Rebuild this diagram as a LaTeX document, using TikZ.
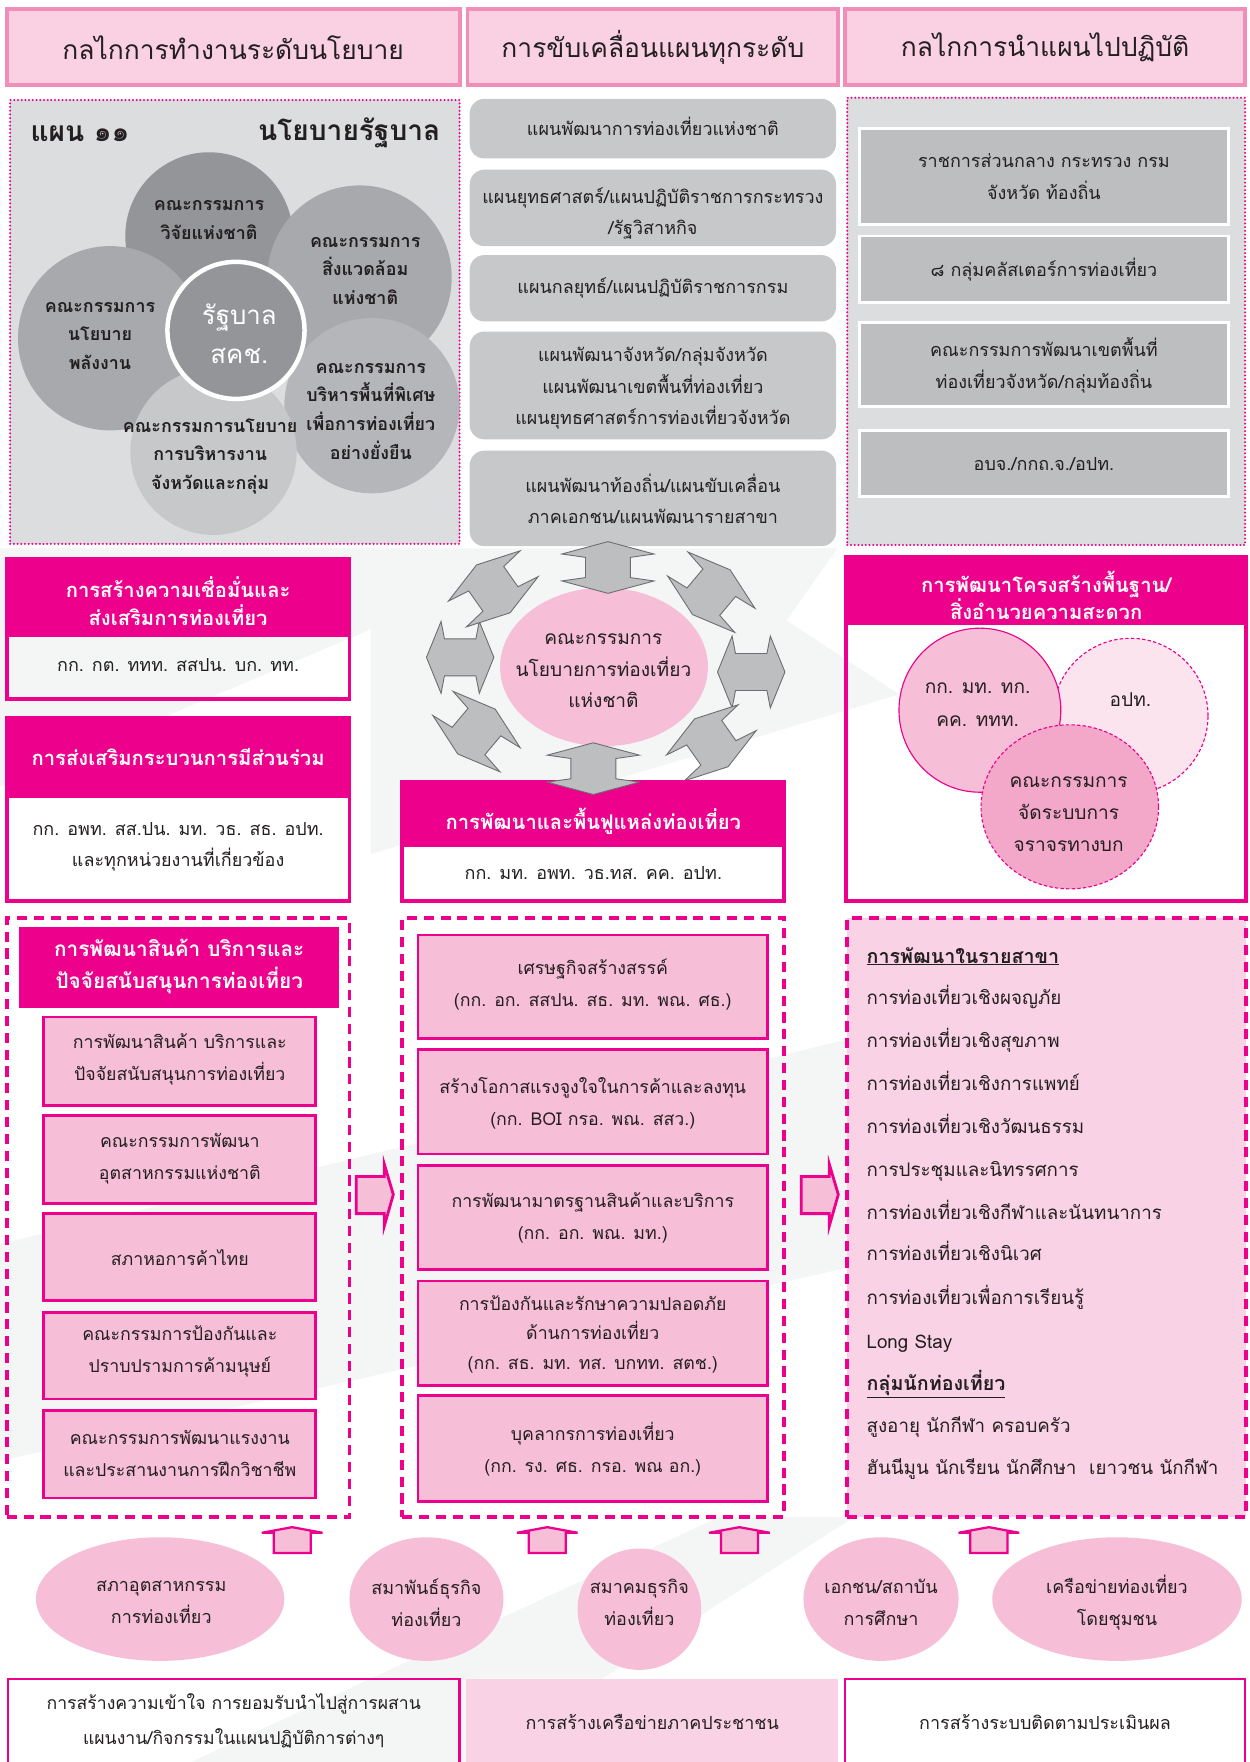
\documentclass[tikz,border=0pt]{standalone}
\usepackage{fontspec}
\setmainfont{Loma}[Script=Thai]
\usetikzlibrary{shapes.geometric}
\definecolor{mag}{HTML}{EC008C}
\definecolor{hdrfill}{HTML}{F9D1E3}
\definecolor{hdrline}{HTML}{F18DBA}
\definecolor{graybg}{HTML}{DCDDDE}
\definecolor{gbox}{HTML}{C7C8CA}
\definecolor{rbox}{HTML}{BCBEC0}
\definecolor{pk}{HTML}{F6BED7}
\definecolor{lpk}{HTML}{F9D3E5}
\definecolor{vlpk}{HTML}{FCE4EE}
\definecolor{dpk}{HTML}{F3A8CA}
\definecolor{txt}{HTML}{231F20}
\definecolor{cA}{HTML}{939598}
\definecolor{cB}{HTML}{A7A9AC}
\definecolor{cC}{HTML}{B4B6B9}
\definecolor{cD}{HTML}{C6C8CA}
\definecolor{arr}{HTML}{BCBEC0}
\definecolor{arrline}{HTML}{6D6E71}
\definecolor{streak}{HTML}{F4F5F5}
\newcommand\fsz[2]{\fontsize{#1}{#2}\selectfont}
\begin{document}
\begin{tikzpicture}[x=1pt,y=-1pt,
  t/.style={inner sep=0pt, text=txt, align=center},
  hdr/.style={draw=hdrline, line width=3.5pt, fill=hdrfill, inner sep=0pt, text=txt, font=\fsz{23.5}{28}},
  sect/.style={fill=graybg, draw=mag, line width=2pt, dash pattern=on 0pt off 3.3pt, line cap=round, inner sep=0pt},
  gr/.style={fill=gbox, rounded corners=13pt, inner sep=0pt},
  rg/.style={fill=rbox, draw=white, line width=2.5pt, inner sep=0pt},
  circ/.style={circle, inner sep=0pt},
  ct/.style={t, font=\bfseries\fsz{15.9}{25.5}},
  mt/.style={t, font=\fsz{16}{28}},
  mframe/.style={draw=mag, line width=3.5pt, inner sep=0pt},
  mhead/.style={fill=mag, inner sep=0pt},
  wt/.style={inner sep=0pt, text=white, align=center, font=\bfseries\fsz{18}{25.5}},
  dbox/.style={draw=mag, line width=3.5pt, dash pattern=on 9pt off 6pt, inner sep=0pt},
  pbox/.style={fill=pk, draw=mag, line width=2.5pt, inner sep=0pt},
  pt/.style={t, font=\fsz{15.8}{28.5}},
  lt/.style={inner sep=0pt, text=txt, anchor=base west, font=\fsz{16.7}{18}},
  lh/.style={lt, font=\bfseries\fsz{17.5}{18}},
  bell/.style={ellipse, fill=pk, inner sep=0pt},
  bt/.style={t, font=\fsz{16}{28}},
  darrv/.pic={\draw[fill=arr, draw=arrline, line width=0.8pt] (-23,0) -- (-12,-41) -- (-9,-20) -- (9,-20) -- (12,-41) -- (23,0) -- (12,41) -- (9,20) -- (-9,20) -- (-12,41) -- cycle;},
  darrh/.pic={\draw[fill=arr, draw=arrline, line width=0.8pt] (-30,0) -- (-17,-32) -- (-14,-16.5) -- (14,-16.5) -- (17,-32) -- (30,0) -- (17,32) -- (14,16.5) -- (-14,16.5) -- (-17,32) -- cycle;},
  darrd/.pic={\draw[fill=arr, draw=arrline, line width=0.8pt] (-26,0) -- (-14,-39) -- (-11,-19) -- (11,-19) -- (14,-39) -- (26,0) -- (14,39) -- (11,19) -- (-11,19) -- (-14,39) -- cycle;},
  uparr/.pic={\draw[fill=pk, draw=mag, line width=2pt] (-27,5) -- (0,0) -- (27,5) -- (16.5,5) -- (16.5,23) -- (-16.5,23) -- (-16.5,5) -- cycle;},
  rarr/.pic={\draw[fill=pk, draw=mag, line width=2.5pt] (0,-16) -- (25,-16) -- (25,-27) -- (33,0) -- (25,28) -- (25,17) -- (0,17) -- cycle;}
]
\useasboundingbox (0,0) rectangle (1112,1568);
\fill[white] (0,0) rectangle (1112,1568);
% faint background streaks
\fill[streak] (0,1107) -- (754,925) -- (754,1128) -- (0,1300) -- cycle;
\fill[streak] (330,488) -- (745,488) -- (700,552) -- (800,618) -- (560,690) -- (330,760) -- cycle;
\fill[streak] (0,488) -- (330,488) -- (330,560) -- (0,700) -- cycle;
\fill[streak] (170,1568) -- (640,1350) -- (760,1350) -- (420,1568) -- cycle;

% ---------- headers
\node[hdr, minimum width=403, minimum height=68] (h1) at (207.5,42) {กลไกการทำงานระดับนโยบาย};
\node[hdr, minimum width=330, minimum height=68] (h2) at (581,42) {การขับเคลื่อนแผนทุกระดับ};
\node[hdr, minimum width=356, minimum height=68] (h3) at (930,42) {กลไกการนำแผนไปปฏิบัติ};

% ---------- left policy section
\node[sect, minimum width=400, minimum height=395] (s1) at (209,286.5) {};
\node[t, anchor=west, font=\bfseries\fsz{25}{28}] (plan) at (27,119) {แผน ๑๑};
\node[t, anchor=east, font=\bfseries\fsz{25}{28}] (govp) at (392,118) {นโยบายรัฐบาล};
\node[circ, fill=cA, minimum size=149] (cv) at (186,210) {};
\node[circ, fill=cB, minimum size=164] (ce) at (320,247) {};
\node[circ, fill=cB, minimum size=164] (cp) at (98,301) {};
\node[circ, fill=cC, minimum size=156] (cs) at (331,361) {};
\node[circ, fill=cD, minimum size=148] (cg) at (190,402) {};
\node[circ, fill=cA, draw=white, line width=4pt, minimum size=122] (cc) at (210,294) {};
\node[ct] (tv) at (186,196) {คณะกรรมการ\\วิจัยแห่งชาติ};
\node[ct] (te) at (325,241) {คณะกรรมการ\\สิ่งแวดล้อม\\แห่งชาติ};
\node[ct] (tp) at (89,299) {คณะกรรมการ\\นโยบาย\\พลังงาน};
\node[ct] (ts) at (330,366) {คณะกรรมการ\\บริหารพื้นที่พิเศษ\\เพื่อการท่องเที่ยว\\อย่างยั่งยืน};
\node[ct] (tg) at (187,406) {คณะกรรมการนโยบาย\\การบริหารงาน\\จังหวัดและกลุ่ม};
\node[inner sep=0pt, text=white, align=center, font=\fsz{23}{35}] (tc) at (213,297) {รัฐบาล\\สคช.};

% ---------- middle plan boxes
\node[gr, minimum width=326, minimum height=53] (g1) at (581,114.5) {};
\node[gr, minimum width=326, minimum height=68] (g2) at (581,185) {};
\node[gr, minimum width=326, minimum height=59] (g3) at (581,256.5) {};
\node[gr, minimum width=326, minimum height=96] (g4) at (581,343) {};
\node[gr, minimum width=326, minimum height=85] (g5) at (581,443.5) {};
\node[mt] (g1t) at (581,112) {แผนพัฒนาการท่องเที่ยวแห่งชาติ};
\node[mt] (g2t) at (581,190) {แผนยุทธศาสตร์/แผนปฏิบัติราชการกระทรวง\\/รัฐวิสาหกิจ};
\node[mt] (g3t) at (581,256) {แผนกลยุทธ์/แผนปฏิบัติราชการกรม};
\node[mt] (g4t) at (581,345.5) {แผนพัฒนาจังหวัด/กลุ่มจังหวัด\\แผนพัฒนาเขตพื้นที่ท่องเที่ยว\\แผนยุทธศาสตร์การท่องเที่ยวจังหวัด};
\node[mt] (g5t) at (581,444) {แผนพัฒนาท้องถิ่น/แผนขับเคลื่อน\\ภาคเอกชน/แผนพัฒนารายสาขา};

% ---------- right implementation section
\node[sect, minimum width=354, minimum height=398] (s3) at (931,286) {};
\node[rg, minimum width=328, minimum height=86] (r1) at (929,157) {};
\node[rg, minimum width=328, minimum height=59] (r2) at (929,239.5) {};
\node[rg, minimum width=328, minimum height=75] (r3) at (929,324.5) {};
\node[rg, minimum width=328, minimum height=59] (r4) at (929,412.5) {};
\node[mt] (r1t) at (929,157) {ราชการส่วนกลาง กระทรวง กรม\\จังหวัด ท้องถิ่น};
\node[mt] (r2t) at (929,240) {๘ กลุ่มคลัสเตอร์การท่องเที่ยว};
\node[mt] (r3t) at (929,325) {คณะกรรมการพัฒนาเขตพื้นที่\\ท่องเที่ยวจังหวัด/กลุ่มท้องถิ่น};
\node[mt] (r4t) at (929,413) {อบจ./กกถ.จ./อปท.};

% ---------- magenta boxes
\node[mframe, minimum width=305, minimum height=125] (m1) at (158.5,559.5) {};
\node[mhead, minimum width=305, minimum height=70] (m1h) at (158.5,532) {};
\node[wt] (m1ht) at (158.5,535) {การสร้างความเชื่อมั่นและ\\ส่งเสริมการท่องเที่ยว};
\node[mt] (m1t) at (158.5,592) {กก. กต. ททท. สสปน. บก. ทท.};

\node[mframe, minimum width=305, minimum height=163] (m2) at (158.5,720.5) {};
\node[mhead, minimum width=305, minimum height=71] (m2h) at (158.5,674.5) {};
\node[wt] (m2ht) at (158.5,674) {การส่งเสริมกระบวนการมีส่วนร่วม};
\node[mt] (m2t) at (158.5,753.5) {กก. อพท. สส.ปน. มท. วธ. สธ. อปท.\\และทุกหน่วยงานที่เกี่ยวข้อง};

% ---------- central hub
\node[ellipse, fill=pk, minimum width=185, minimum height=141, inner sep=0pt] (hub) at (537.5,593.5) {};
\node[t, font=\fsz{17}{28}] (hubt) at (537,597) {คณะกรรมการ\\นโยบายการท่องเที่ยว\\แห่งชาติ};
\pic[rotate=90] at (541,505) {darrv};
\pic at (409.5,585) {darrh};
\pic at (668.5,598) {darrh};
\pic[rotate=-55] at (439,524) {darrd};
\pic[rotate=50] at (633,527) {darrd};
\pic[rotate=50] at (424,651) {darrd};
\pic[rotate=-55] at (633,661) {darrd};

\node[mframe, minimum width=340, minimum height=106] (m3) at (528,749) {};
\node[mhead, minimum width=340, minimum height=58] (m3h) at (528,725) {};
\node[wt] (m3ht) at (528,731) {การพัฒนาและพื้นฟูแหล่งท่องเที่ยว};
\node[mt] (m3t) at (528,777) {กก. มท. อพท. วธ.ทส. คค. อปท.};
\pic[rotate=90] at (528,684) {darrv};

\node[mframe, minimum width=356, minimum height=306] (m4) at (931,649) {};
\node[mhead, minimum width=356, minimum height=60] (m4h) at (931,526) {};
\node[wt, font=\bfseries\fsz{18}{22}] (m4ht) at (931,530) {การพัฒนาโครงสร้างพื้นฐาน/\\สิ่งอำนวยความสะดวก};
\node[circ, fill=vlpk, draw=mag, line width=1pt, dash pattern=on 3pt off 2pt, minimum size=138] (e2) at (1006,637) {};
\node[ellipse, fill=pk, draw=mag, line width=1pt, minimum width=144, minimum height=146, inner sep=0pt] (e1) at (872,632) {};
\node[ellipse, fill=dpk, draw=mag, line width=1pt, dash pattern=on 3pt off 2pt, minimum width=158, minimum height=146, inner sep=0pt] (e3) at (952,718) {};
\node[t, font=\fsz{17}{30}] (e1t) at (870,627) {กก. มท. ทก.\\คค. ททท.};
\node[t, font=\fsz{17}{30}] (e2t) at (1006,623) {อปท.};
\node[t, font=\fsz{17}{28.5}] (e3t) at (951,724.5) {คณะกรรมการ\\จัดระบบการ\\จราจรทางบก};

% ---------- dashed columns
\node[dbox, minimum width=305, minimum height=533] (d1) at (158.5,1083.5) {};
\node[dbox, minimum width=340, minimum height=533] (d2) at (528,1083.5) {};
\node[dbox, fill=lpk, minimum width=355, minimum height=533] (d3) at (931.5,1083.5) {};

\node[mhead, minimum width=285, minimum height=72] (d1h) at (159.5,861) {};
\node[wt, font=\bfseries\fsz{18.5}{28}] (d1ht) at (159.5,860) {การพัฒนาสินค้า บริการและ\\ปัจจัยสนับสนุนการท่องเที่ยว};
\node[pbox, minimum width=242, minimum height=79] (p1) at (160,944.5) {};
\node[pbox, minimum width=242, minimum height=78] (p2) at (160,1032) {};
\node[pbox, minimum width=242, minimum height=77] (p3) at (160,1118.5) {};
\node[pbox, minimum width=242, minimum height=77] (p4) at (160,1206.5) {};
\node[pbox, minimum width=242, minimum height=78] (p5) at (160,1294) {};
\node[pt] (p1t) at (160,943) {การพัฒนาสินค้า บริการและ\\ปัจจัยสนับสนุนการท่องเที่ยว};
\node[pt] (p2t) at (160,1031) {คณะกรรมการพัฒนา\\อุตสาหกรรมแห่งชาติ};
\node[pt] (p3t) at (160,1119) {สภาหอการค้าไทย};
\node[pt] (p4t) at (160,1203) {คณะกรรมการป้องกันและ\\ปราบปรามการค้ามนุษย์};
\node[pt] (p5t) at (160,1293) {คณะกรรมการพัฒนาแรงงาน\\และประสานงานการฝึกวิชาชีพ};

\node[pbox, minimum width=311, minimum height=92] (q1) at (527.5,878) {};
\node[pbox, minimum width=311, minimum height=93] (q2) at (527.5,980.5) {};
\node[pbox, minimum width=311, minimum height=93] (q3) at (527.5,1083.5) {};
\node[pbox, minimum width=311, minimum height=93] (q4) at (527.5,1186.5) {};
\node[pbox, minimum width=311, minimum height=94] (q5) at (527.5,1289) {};
\node[pt] (q1t) at (527.5,876) {เศรษฐกิจสร้างสรรค์\\(กก. อก. สสปน. สธ. มท. พณ. ศธ.)};
\node[pt] (q2t) at (527.5,981.5) {สร้างโอกาสแรงจูงใจในการค้าและลงทุน\\(กก. BOI กรอ. พณ. สสว.)};
\node[pt] (q3t) at (527.5,1083.5) {การพัฒนามาตรฐานสินค้าและบริการ\\(กก. อก. พณ. มท.)};
\node[pt, font=\fsz{15.8}{26.5}] (q4t) at (527.5,1187.5) {การป้องกันและรักษาความปลอดภัย\\ด้านการท่องเที่ยว\\(กก. สธ. มท. ทส. บกทท. สตช.)};
\node[pt] (q5t) at (527.5,1290) {บุคลากรการท่องเที่ยว\\(กก. รง. ศธ. กรอ. พณ อก.)};

\node[lh] (l0) at (771,857) {\underline{การพัฒนาในรายสาขา}};
\node[lt] (l1) at (771,894) {การท่องเที่ยวเชิงผจญภัย};
\node[lt] (l2) at (771,932) {การท่องเที่ยวเชิงสุขภาพ};
\node[lt] (l3) at (771,970) {การท่องเที่ยวเชิงการแพทย์};
\node[lt] (l4) at (771,1009) {การท่องเที่ยวเชิงวัฒนธรรม};
\node[lt] (l5) at (771,1047) {การประชุมและนิทรรศการ};
\node[lt] (l6) at (771,1085) {การท่องเที่ยวเชิงกีฬาและนันทนาการ};
\node[lt] (l7) at (771,1122) {การท่องเที่ยวเชิงนิเวศ};
\node[lt] (l8) at (771,1161) {การท่องเที่ยวเพื่อการเรียนรู้};
\node[lt] (l9) at (771,1200) {Long Stay};
\node[lh] (l10) at (771,1237) {\underline{กลุ่มนักท่องเที่ยว}};
\node[lt] (l11) at (771,1275) {สูงอายุ นักกีฬา ครอบครัว};
\node[lt] (l12) at (771,1312) {ฮันนีมูน นักเรียน นักศึกษา\ \ เยาวชน นักกีฬา};

% ---------- flow arrows
\pic at (317,1063) {rarr};
\pic at (713,1063) {rarr};
\pic at (260,1359) {uparr};
\pic at (487,1359) {uparr};
\pic at (658,1359) {uparr};
\pic at (880,1359) {uparr};

% ---------- bottom ellipses
\node[bell, minimum width=221, minimum height=110] (b1) at (142.5,1423) {};
\node[bell, minimum width=137, minimum height=110] (b2) at (379.5,1423) {};
\node[bell, minimum width=110, minimum height=108] (b3) at (569,1432) {};
\node[bell, minimum width=138, minimum height=110] (b4) at (784,1423) {};
\node[bell, minimum width=222, minimum height=110] (b5) at (994,1423) {};
\node[bt] (b1t) at (143.5,1426) {สภาอุตสาหกรรม\\การท่องเที่ยว};
\node[bt] (b2t) at (379.5,1426) {สมาพันธ์ธุรกิจ\\ท่องเที่ยว};
\node[bt] (b3t) at (569,1426) {สมาคมธุรกิจ\\ท่องเที่ยว};
\node[bt] (b4t) at (784,1426) {เอกชน/สถาบัน\\การศึกษา};
\node[bt] (b5t) at (994,1426) {เครือข่ายท่องเที่ยว\\โดยชุมชน};

% ---------- bottom boxes
\node[draw=mag, line width=2pt, minimum width=402, minimum height=76, inner sep=0pt] (f1) at (208,1532) {};
\node[fill=lpk, minimum width=331, minimum height=76, inner sep=0pt] (f2) at (580.5,1532) {};
\node[draw=mag, line width=2pt, minimum width=356, minimum height=76, inner sep=0pt] (f3) at (930,1532) {};
\node[bt, font=\fsz{15.7}{31}] (f1t) at (208,1531) {การสร้างความเข้าใจ การยอมรับนำไปสู่การผสาน\\แผนงาน/กิจกรรมในแผนปฏิบัติการต่างๆ};
\node[bt] (f2t) at (580.5,1532) {การสร้างเครือข่ายภาคประชาชน};
\node[bt] (f3t) at (930,1532) {การสร้างระบบติดตามประเมินผล};
\end{tikzpicture}
\end{document}
